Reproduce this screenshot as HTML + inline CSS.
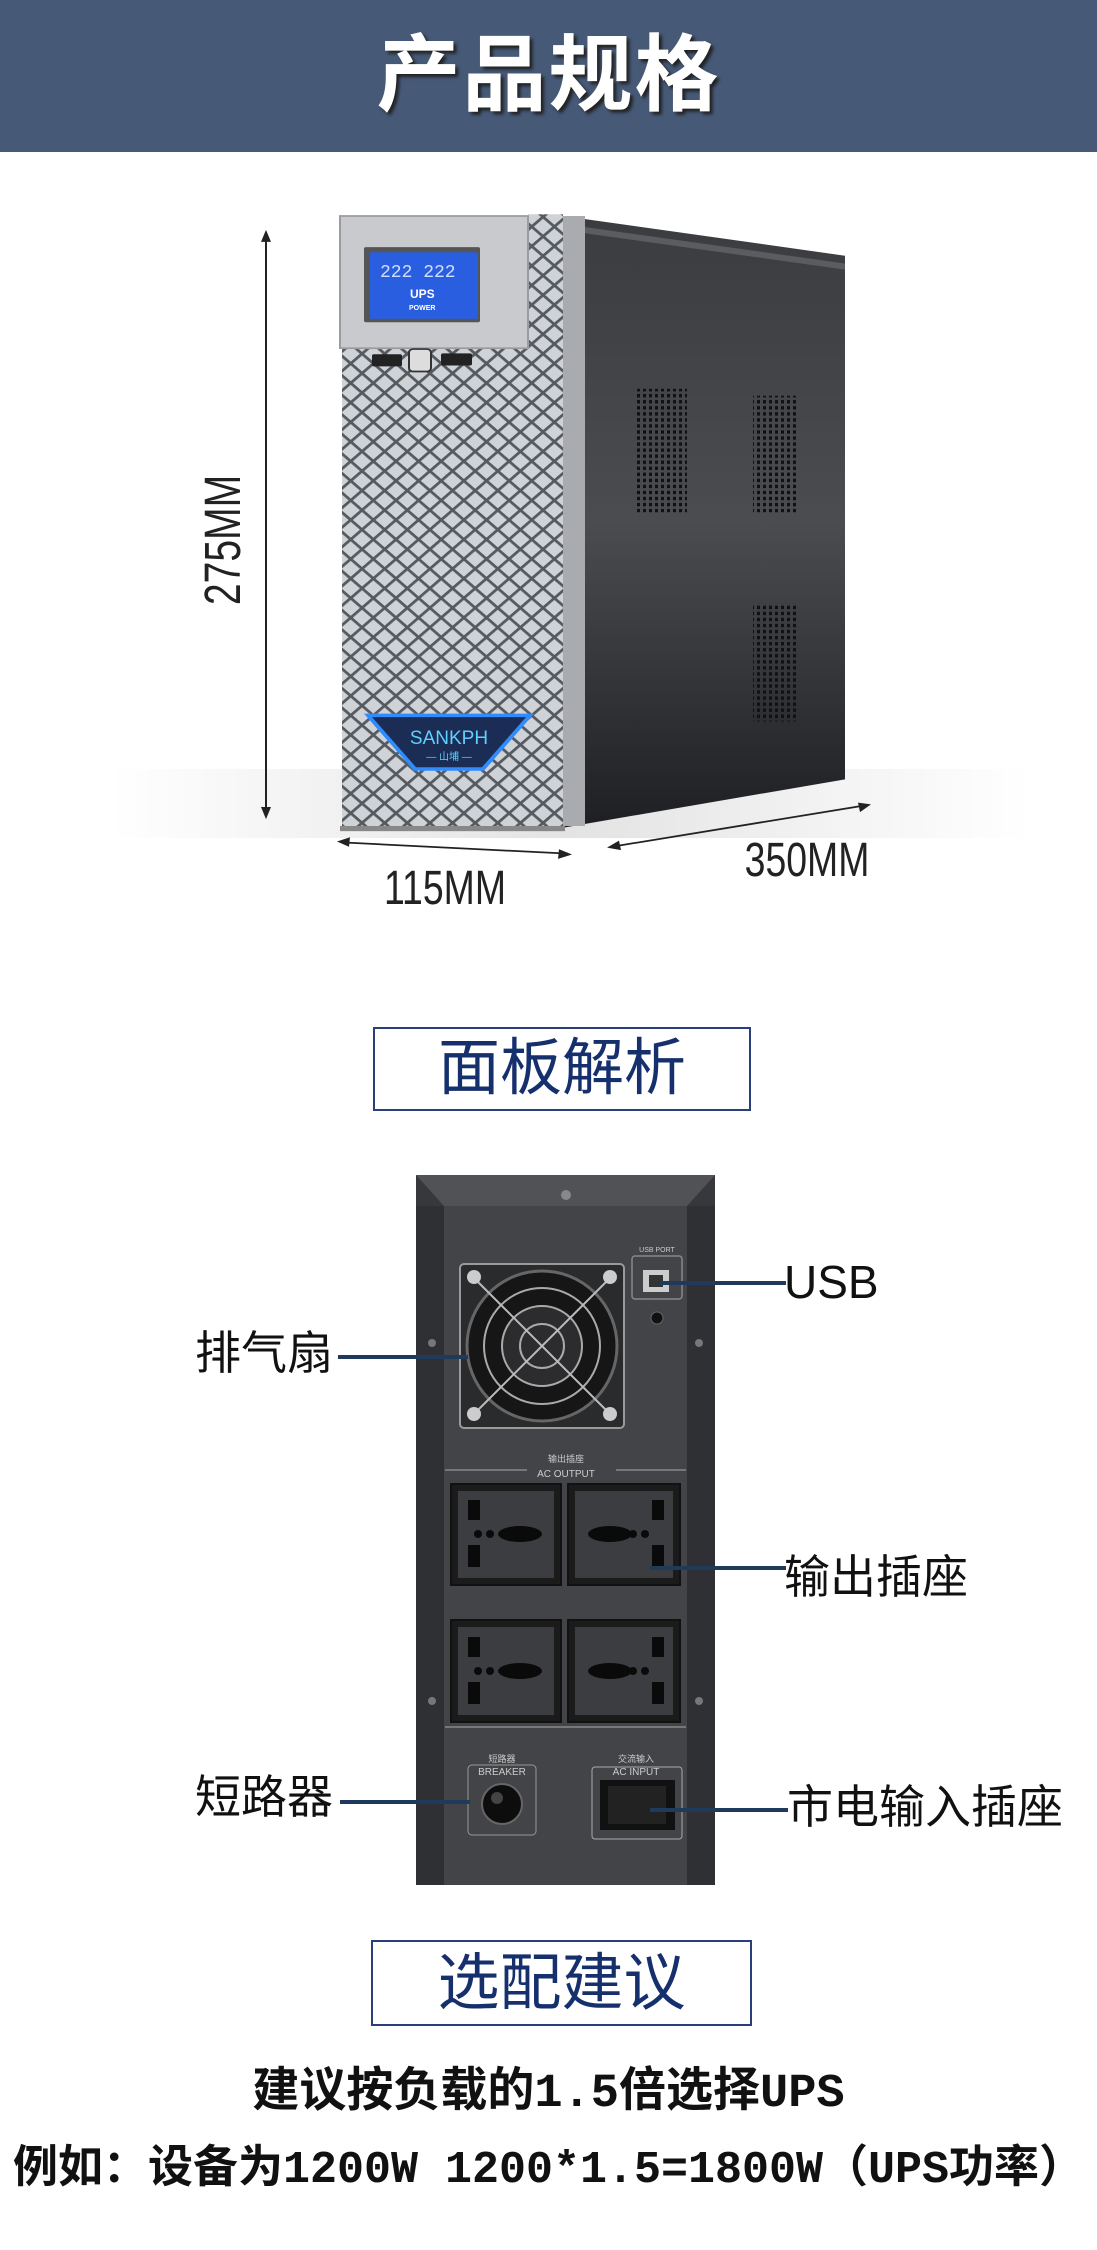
<!DOCTYPE html>
<html><head><meta charset="utf-8">
<style>
body{margin:0;width:1097px;height:2250px;background:#fff;position:relative;overflow:hidden;font-family:"Liberation Sans","Noto Sans CJK SC",sans-serif}
.abs{position:absolute}
.hdr{left:0;top:0;width:1097px;height:152px;background:#465a78}
.hdr div{position:absolute;left:0;width:1097px;top:10px;text-align:center;color:#fff;font-size:84px;font-weight:bold;line-height:130px;text-shadow:3px 3px 3px #222;letter-spacing:2px}
.box{border:2px solid #2a3f7a;color:#16306e;text-align:center;font-size:62px;line-height:80px;box-sizing:border-box}
.lbl{font-size:46px;color:#111;line-height:50px;white-space:nowrap}
.ln{height:4px;background:#1f3a5a}
.t{left:0;width:1097px;text-align:center;font-family:"Liberation Mono","Noto Sans CJK SC",monospace;font-weight:bold;color:#111;white-space:nowrap}
</style></head><body>
<div class="abs hdr"><div>产品规格</div></div>

<svg class="abs" style="left:0;top:0" width="1097" height="1000">
<defs>
<pattern id="dm" width="16" height="16" patternUnits="userSpaceOnUse" patternTransform="rotate(45)">
<rect width="16" height="16" fill="#cfd2d6"/><rect x="0" y="0" width="3" height="16" fill="#555a60"/><rect x="0" y="0" width="16" height="3" fill="#555a60"/></pattern>
<linearGradient id="sd" x1="0" y1="0" x2="0" y2="1"><stop offset="0" stop-color="#3a3c40"/><stop offset="0.5" stop-color="#4a4c50"/><stop offset="1" stop-color="#1e1f22"/></linearGradient>
<linearGradient id="fl" x1="0" y1="0" x2="1" y2="0"><stop offset="0" stop-color="#fff"/><stop offset="0.5" stop-color="#dcdcdc"/><stop offset="1" stop-color="#fff"/></linearGradient>
<pattern id="holes" width="6" height="7" patternUnits="userSpaceOnUse"><rect width="6" height="7" fill="none"/><rect x="1" y="1" width="3" height="4" fill="#111"/></pattern>
</defs>
<g transform="scale(1,0.864)">
<rect x="110" y="890" width="920" height="80" fill="url(#fl)" opacity="0.8"/>
<polygon points="563,250 845,296 845,902 563,958" fill="url(#sd)"/>
<polygon points="580,262 845,305 845,312 585,270" fill="#5a5c60"/>
<rect x="637" y="450" width="50" height="143" fill="url(#holes)"/>
<rect x="753" y="458" width="43" height="135" fill="url(#holes)"/>
<rect x="753" y="698" width="43" height="137" fill="url(#holes)"/>
<rect x="528" y="248" width="35" height="710" fill="url(#dm)"/>
<rect x="563" y="250" width="22" height="706" fill="#a9abaf"/>
<rect x="342" y="403" width="186" height="553" fill="url(#dm)"/>
<rect x="340" y="250" width="188" height="153" fill="#c8cacd"/>
<rect x="340" y="250" width="188" height="153" fill="none" stroke="#9a9ca0" stroke-width="2"/>
<rect x="364" y="286" width="116" height="87" fill="#555" rx="2"/>
<rect x="370" y="292" width="108" height="77" fill="#2a5ee0"/>
<rect x="372" y="410" width="30" height="14" fill="#222" rx="2"/>
<rect x="441" y="409" width="31" height="14" fill="#222" rx="2"/>
<rect x="409" y="404" width="22" height="26" fill="#ddd" stroke="#333" stroke-width="2" rx="4"/>
<rect x="340" y="956" width="225" height="6" fill="#888"/>
<polygon points="368,828 530,828 483,890 415,890" fill="#1b2d55" stroke="#2e8cff" stroke-width="4"/>
<g stroke="#222" stroke-width="2" fill="#222">
<line x1="266" y1="272" x2="266" y2="942"/>
<polygon points="266,266 261,280 271,280" stroke="none"/>
<polygon points="266,948 261,934 271,934" stroke="none"/>
<line x1="342" y1="975" x2="568" y2="988"/>
<polygon points="337,974 350,969 349,980" stroke="none"/>
<polygon points="572,989 559,983 558,994" stroke="none"/>
<line x1="612" y1="980" x2="866" y2="932"/>
<polygon points="607,981 619,973 621,984" stroke="none"/>
<polygon points="871,931 860,940 858,929" stroke="none"/>
</g>
</g>
<text x="380" y="277" fill="#cfe0ff" font-size="18" font-family="Liberation Mono">222 222</text>
<text x="410" y="298" fill="#fff" font-size="12" font-weight="bold" font-family="Liberation Sans">UPS</text>
<text x="409" y="310" fill="#fff" font-size="7" font-weight="bold" font-family="Liberation Sans">POWER</text>
<text x="449" y="744" fill="#5fd0ff" font-size="19" text-anchor="middle" font-family="Liberation Sans">SANKPH</text>
<text x="449" y="760" fill="#5fd0ff" font-size="10" text-anchor="middle" font-family="Liberation Sans,Noto Sans CJK SC">— 山埔 —</text>
<text transform="translate(240,540) rotate(-90) scale(0.85,1.1)" font-size="46" text-anchor="middle" fill="#222" font-family="Liberation Sans">275MM</text>
<text transform="translate(445,904) scale(0.85,1.1)" font-size="44" text-anchor="middle" fill="#222" font-family="Liberation Sans">115MM</text>
<text transform="translate(807,876) scale(0.85,1.1)" font-size="44" text-anchor="middle" fill="#222" font-family="Liberation Sans">350MM</text>
</svg>

<div class="abs box" style="left:373px;top:1027px;width:378px;height:84px">面板解析</div>

<svg class="abs" style="left:0;top:1160px" width="1097" height="740">
<g transform="translate(0,-1160)">
<rect x="416" y="1175" width="299" height="710" fill="#36383b"/>
<polygon points="416,1175 715,1175 687,1206 444,1206" fill="#505256"/>
<rect x="444" y="1206" width="243" height="679" fill="#424447"/>
<rect x="416" y="1206" width="28" height="679" fill="#2f3033"/>
<rect x="687" y="1206" width="28" height="679" fill="#2f3033"/>
<circle cx="566" cy="1195" r="5" fill="#888"/>
<circle cx="432" cy="1343" r="4" fill="#777"/><circle cx="699" cy="1343" r="4" fill="#777"/>
<circle cx="432" cy="1701" r="4" fill="#777"/><circle cx="699" cy="1701" r="4" fill="#777"/>
<rect x="460" y="1264" width="164" height="164" fill="#2a2b2d" stroke="#9a9a9a" stroke-width="2" rx="4"/>
<circle cx="542" cy="1346" r="75" fill="#161617" stroke="#666" stroke-width="3"/>
<circle cx="542" cy="1346" r="58" fill="none" stroke="#aaa" stroke-width="2"/>
<circle cx="542" cy="1346" r="40" fill="#2c2c2e" stroke="#aaa" stroke-width="2"/>
<circle cx="542" cy="1346" r="22" fill="none" stroke="#aaa" stroke-width="2"/>
<line x1="477" y1="1281" x2="607" y2="1411" stroke="#bbb" stroke-width="2"/>
<line x1="607" y1="1281" x2="477" y2="1411" stroke="#bbb" stroke-width="2"/>
<circle cx="474" cy="1277" r="7" fill="#ccc"/><circle cx="610" cy="1277" r="7" fill="#ccc"/>
<circle cx="474" cy="1414" r="7" fill="#ccc"/><circle cx="610" cy="1414" r="7" fill="#ccc"/>
<rect x="632" y="1256" width="50" height="43" fill="none" stroke="#888" stroke-width="1.5" rx="3"/>
<rect x="643" y="1270" width="26" height="22" fill="#ccc"/><rect x="649" y="1275" width="14" height="12" fill="#333"/>
<circle cx="657" cy="1318" r="6" fill="#111" stroke="#666"/>
<text x="657" y="1252" font-size="7" fill="#ccc" text-anchor="middle" font-family="Liberation Sans,Noto Sans CJK SC">USB PORT</text>
<text x="566" y="1462" font-size="9" fill="#ccc" text-anchor="middle" font-family="Liberation Sans,Noto Sans CJK SC">输出插座</text>
<text x="566" y="1477" font-size="10" fill="#ccc" text-anchor="middle" font-family="Liberation Sans">AC OUTPUT</text>
<line x1="445" y1="1470" x2="527" y2="1470" stroke="#aaa"/><line x1="616" y1="1470" x2="686" y2="1470" stroke="#aaa"/>
<g fill="#1b1b1c" stroke="#111" stroke-width="2">
<rect x="451" y="1484" width="110" height="101"/><rect x="568" y="1484" width="112" height="101"/>
<rect x="451" y="1620" width="110" height="102"/><rect x="568" y="1620" width="112" height="102"/>
</g>
<g fill="#3c3d40">
<rect x="458" y="1491" width="96" height="87"/><rect x="575" y="1491" width="98" height="87"/>
<rect x="458" y="1627" width="96" height="88"/><rect x="575" y="1627" width="98" height="88"/>
</g>
<g fill="#0a0a0a">
<rect x="468" y="1500" width="12" height="20"/><rect x="468" y="1545" width="12" height="22"/><ellipse cx="520" cy="1534" rx="22" ry="8"/><circle cx="478" cy="1534" r="4"/><circle cx="490" cy="1534" r="4"/>
<rect x="652" y="1500" width="12" height="20"/><rect x="652" y="1545" width="12" height="22"/><ellipse cx="610" cy="1534" rx="22" ry="8"/><circle cx="645" cy="1534" r="4"/><circle cx="633" cy="1534" r="4"/>
<rect x="468" y="1637" width="12" height="20"/><rect x="468" y="1682" width="12" height="22"/><ellipse cx="520" cy="1671" rx="22" ry="8"/><circle cx="478" cy="1671" r="4"/><circle cx="490" cy="1671" r="4"/>
<rect x="652" y="1637" width="12" height="20"/><rect x="652" y="1682" width="12" height="22"/><ellipse cx="610" cy="1671" rx="22" ry="8"/><circle cx="645" cy="1671" r="4"/><circle cx="633" cy="1671" r="4"/>
</g>
<line x1="445" y1="1727" x2="686" y2="1727" stroke="#aaa"/>
<text x="502" y="1762" font-size="9" fill="#ccc" text-anchor="middle" font-family="Liberation Sans,Noto Sans CJK SC">短路器</text>
<text x="502" y="1775" font-size="10" fill="#ccc" text-anchor="middle" font-family="Liberation Sans">BREAKER</text>
<rect x="468" y="1765" width="68" height="70" fill="none" stroke="#999" rx="4"/>
<circle cx="502" cy="1804" r="20" fill="#0d0d0d" stroke="#666" stroke-width="2"/>
<circle cx="497" cy="1798" r="6" fill="#444"/>
<text x="636" y="1762" font-size="9" fill="#ccc" text-anchor="middle" font-family="Liberation Sans,Noto Sans CJK SC">交流输入</text>
<text x="636" y="1775" font-size="10" fill="#ccc" text-anchor="middle" font-family="Liberation Sans">AC INPUT</text>
<rect x="592" y="1767" width="90" height="72" fill="none" stroke="#aaa" rx="3"/>
<rect x="600" y="1780" width="75" height="50" fill="#111"/>
<rect x="608" y="1786" width="58" height="38" fill="#222"/>
</g>
</svg>

<div class="abs lbl" style="left:195px;top:1328px">排气扇</div>
<div class="abs ln" style="left:338px;top:1355px;width:130px"></div>
<div class="abs lbl" style="left:784px;top:1257px">USB</div>
<div class="abs ln" style="left:660px;top:1281px;width:126px"></div>
<div class="abs lbl" style="left:784px;top:1552px">输出插座</div>
<div class="abs ln" style="left:650px;top:1566px;width:136px"></div>
<div class="abs lbl" style="left:195px;top:1772px">短路器</div>
<div class="abs ln" style="left:340px;top:1800px;width:130px"></div>
<div class="abs lbl" style="left:787px;top:1782px">市电输入插座</div>
<div class="abs ln" style="left:650px;top:1808px;width:138px"></div>

<div class="abs box" style="left:371px;top:1940px;width:381px;height:86px;line-height:84px">选配建议</div>

<div class="abs t" style="top:2067px;font-size:47px;line-height:56px">建议按负载的1.5倍选择UPS</div>
<div class="abs t" style="top:2143px;font-size:45px;line-height:56px">例如：设备为1200W 1200*1.5=1800W（UPS功率）</div>
</body></html>
